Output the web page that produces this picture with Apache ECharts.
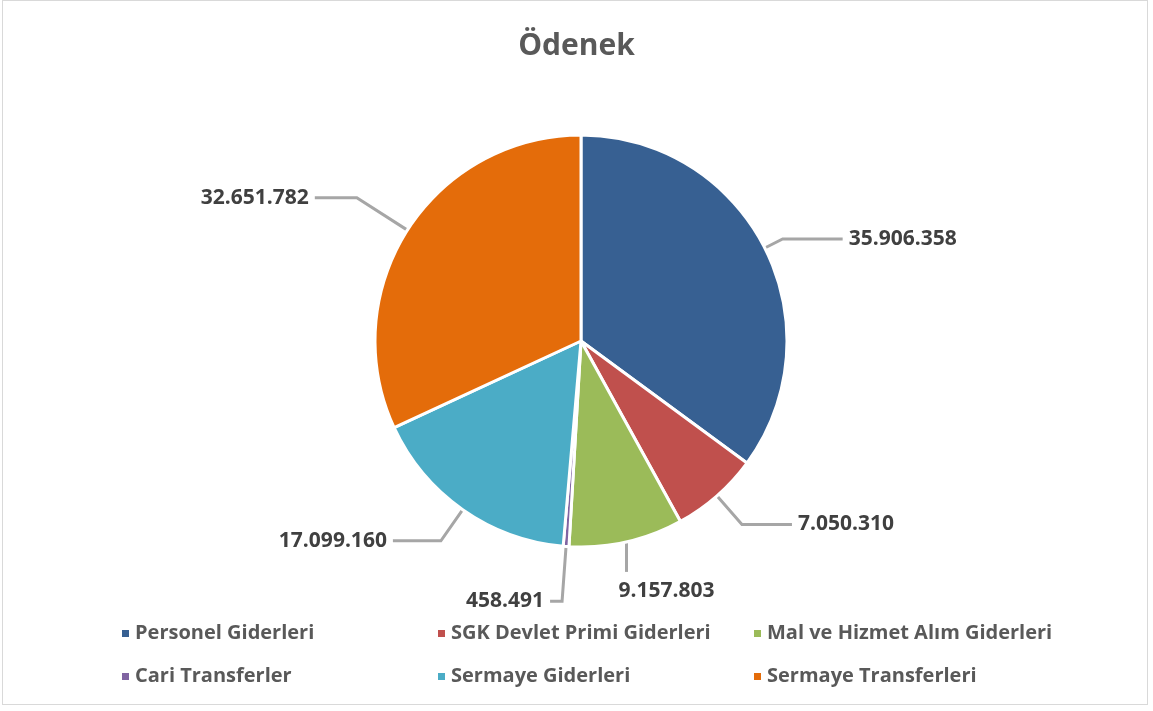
<!DOCTYPE html>
<html>
<head>
<meta charset="utf-8">
<script src="https://cdn.jsdelivr.net/npm/echarts@6/dist/echarts.min.js"></script>
<style>
  html, body { margin: 0; padding: 0; background: #fff; }
  #frame { position: absolute; left: 2px; top: 0px; width: 1146px; height: 705px; border: 1px solid #d9d9d9; box-sizing: border-box; }
  #chart { position: absolute; left: 0; top: 0; width: 1153px; height: 711px; }
</style>
</head>
<body>
<div id="frame"></div>
<div id="chart"></div>
<script>
const titleText = "Ödenek";
const categories = ["Personel Giderleri", "SGK Devlet Primi Giderleri", "Mal ve Hizmet Alım Giderleri", "Cari Transferler", "Sermaye Giderleri", "Sermaye Transferleri"];
const values = [35906358, 7050310, 9157803, 458491, 17099160, 32651782];
const colors = ["#376092", "#c0504d", "#9bbb59", "#8064a2", "#4bacc6", "#e46c0a"];

// leader-line lengths per slice (styling, kept separate from data)
const leaderLen = [20, 38, 30, 55, 38, 60];
const leaderLen2 = [60, 50, 0, 12, 48, 42];

function fmt(v) {
  return String(v).replace(/\B(?=(\d{3})+(?!\d))/g, ".");
}

const chart = echarts.init(document.getElementById('chart'), null, { renderer: 'canvas' });
const FONT = "'Open Sans', 'Noto Sans', sans-serif";

chart.setOption({
  backgroundColor: 'transparent',
  color: colors,
  title: {
    text: titleText,
    left: 'center',
    top: 26,
    textStyle: { fontFamily: FONT, fontSize: 30, fontWeight: 'bold', color: '#595959' }
  },
  legend: {
    data: categories,
    left: 115,
    top: 612,
    width: 960,
    orient: 'horizontal',
    icon: 'rect',
    itemWidth: 9,
    itemHeight: 9,
    itemGap: 10,
    textStyle: { fontFamily: FONT, fontSize: 20, fontWeight: 'bold', color: '#595959', width: 291, lineHeight: 33 }
  },
  series: [{
    type: 'pie',
    center: [581, 341],
    radius: 206,
    startAngle: 90,
    clockwise: true,
    avoidLabelOverlap: false,
    data: categories.map((c, i) => ({
      name: c,
      value: values[i],
      labelLine: { length: leaderLen[i], length2: leaderLen2[i] }
    })),
    itemStyle: { borderColor: '#ffffff', borderWidth: 3 },
    label: {
      show: true,
      position: 'outside',
      formatter: p => fmt(p.value),
      fontFamily: FONT,
      fontSize: 21,
      fontWeight: 'bold',
      color: '#404040',
      distanceToLabelLine: 6
    },
    labelLine: {
      show: true,
      lineStyle: { color: '#a6a6a6', width: 3 }
    },
    labelLayout: function (params) {
      // slice 2: vertical leader line with the label underneath, as in the reference
      if (params.dataIndex === 2 && params.labelLinePoints) {
        const p0 = params.labelLinePoints[0];
        const p1 = [p0[0], p0[1] + 30];
        return {
          labelLinePoints: [p0, p1, p1],
          x: p0[0] - 8,
          y: p1[1] + 19,
          align: 'left',
          verticalAlign: 'middle'
        };
      }
      return {};
    },
    emphasis: { disabled: true }
  }]
});
</script>
</body>
</html>
